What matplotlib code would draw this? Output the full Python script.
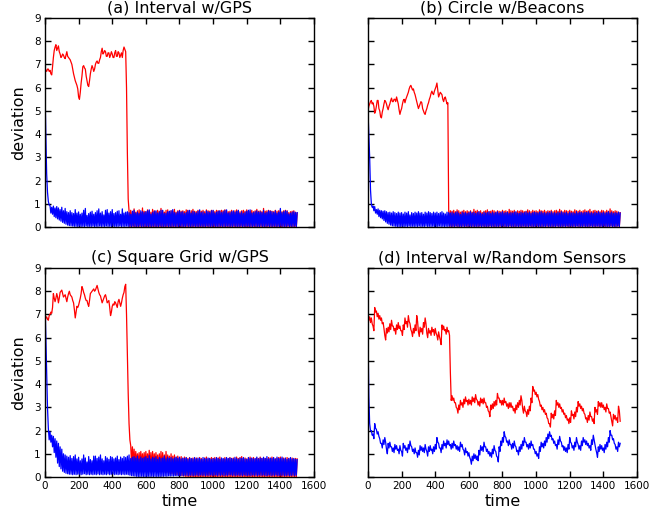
import numpy as np
import matplotlib
matplotlib.use('Agg')
import matplotlib.pyplot as plt

# 经典风格：刻度朝内，四边都有刻度
plt.rcParams['font.family'] = ['DejaVu Sans']
plt.rcParams['xtick.direction'] = 'in'
plt.rcParams['ytick.direction'] = 'in'
plt.rcParams['xtick.top'] = True
plt.rcParams['ytick.right'] = True
plt.rcParams['xtick.major.size'] = 4
plt.rcParams['ytick.major.size'] = 4

# one sample every 5 steps
time = np.arange(0, 1501, 5)

titles = ['(a) Interval w/GPS', '(b) Circle w/Beacons',
          '(c) Square Grid w/GPS', '(d) Interval w/Random Sensors']
x_ticks = [0, 200, 400, 600, 800, 1000, 1200, 1400, 1600]
y_ticks = [0, 1, 2, 3, 4, 5, 6, 7, 8, 9]

# (a) Interval w/GPS  (rows of 100 time units)
red_a = [
    6.85, 6.75, 6.7, 6.8, 6.8, 6.7, 6.75, 6.6, 6.55, 6.9, 7.3, 7.6, 7.75, 7.85, 7.6, 7.7, 7.8, 7.55, 7.45, 7.3,
    7.35, 7.45, 7.4, 7.3, 7.25, 7.4, 7.55, 7.35, 7.3, 7.25, 7.2, 7.1, 7.0, 6.8, 6.6, 6.45, 6.3, 6.2, 6.1, 5.95,
    5.6, 5.5, 5.8, 6.2, 6.5, 6.9, 6.95, 6.85, 6.8, 6.5, 6.3, 6.1, 6.05, 6.3, 6.6, 6.8, 6.95, 6.85, 6.7, 6.8,
    7.0, 7.1, 7.15, 7.05, 7.05, 7.2, 7.3, 7.55, 7.7, 7.45, 7.5, 7.6, 7.55, 7.35, 7.35, 7.5, 7.5, 7.3, 7.4, 7.55,
    7.45, 7.3, 7.3, 7.5, 7.6, 7.35, 7.35, 7.55, 7.5, 7.3, 7.4, 7.5, 7.3, 7.6, 7.75, 7.65, 7.55, 6.0, 3.2, 1.2,
    0.7, 0.02, 0.72, 0.0, 0.66, 0.03, 0.78, 0.01, 0.64, 0.02, 0.7, 0.0, 0.74, 0.02, 0.62, 0.01, 0.82, 0.02, 0.68, 0.0,
    0.66, 0.02, 0.74, 0.01, 0.7, 0.0, 0.64, 0.02, 0.76, 0.01, 0.7, 0.02, 0.66, 0.0, 0.72, 0.01, 0.68, 0.02, 0.8, 0.0,
    0.7, 0.01, 0.64, 0.02, 0.72, 0.0, 0.74, 0.01, 0.66, 0.02, 0.7, 0.0, 0.68, 0.02, 0.76, 0.01, 0.64, 0.0, 0.7, 0.02,
    0.72, 0.0, 0.68, 0.01, 0.7, 0.02, 0.66, 0.0, 0.74, 0.01, 0.72, 0.02, 0.64, 0.0, 0.7, 0.01, 0.76, 0.02, 0.68, 0.0,
    0.66, 0.02, 0.72, 0.01, 0.7, 0.0, 0.68, 0.02, 0.72, 0.01, 0.66, 0.0, 0.74, 0.02, 0.7, 0.01, 0.68, 0.0, 0.72, 0.02,
    0.7, 0.01, 0.66, 0.0, 0.72, 0.02, 0.7, 0.01, 0.68, 0.0, 0.72, 0.02, 0.7, 0.01, 0.74, 0.0, 0.7, 0.02, 0.66, 0.01,
    0.68, 0.0, 0.72, 0.02, 0.66, 0.01, 0.7, 0.0, 0.74, 0.02, 0.7, 0.01, 0.66, 0.0, 0.7, 0.02, 0.72, 0.01, 0.68, 0.0,
    0.74, 0.02, 0.7, 0.01, 0.68, 0.0, 0.72, 0.02, 0.66, 0.01, 0.7, 0.0, 0.76, 0.02, 0.68, 0.01, 0.7, 0.0, 0.66, 0.02,
    0.8, 0.01, 0.68, 0.0, 0.7, 0.02, 0.72, 0.01, 0.7, 0.0, 0.68, 0.02, 0.66, 0.01, 0.72, 0.0, 0.68, 0.02, 0.7, 0.01,
    0.74, 0.0, 0.66, 0.02, 0.7, 0.01, 0.72, 0.0, 0.7, 0.02, 0.62, 0.01, 0.66, 0.0, 0.68, 0.02, 0.7, 0.01, 0.64, 0.0,
    0.6]
blue_a = [
    6.0, 4.0, 2.3, 1.5, 1.1, 0.95, 0.92, 0.6, 0.85, 0.55, 0.9, 0.45, 0.82, 0.4, 0.88, 0.35, 0.82, 0.3, 0.75, 0.25,
    0.85, 0.2, 0.7, 0.16, 0.8, 0.12, 0.66, 0.08, 0.62, 0.06, 0.7, 0.05, 0.62, 0.04, 0.58, 0.03, 0.75, 0.03, 0.6, 0.02,
    0.65, 0.04, 0.55, 0.02, 0.6, 0.03, 0.72, 0.02, 0.8, 0.04, 0.5, 0.02, 0.58, 0.03, 0.64, 0.02, 0.68, 0.04, 0.55, 0.02,
    0.62, 0.03, 0.7, 0.02, 0.78, 0.04, 0.6, 0.02, 0.66, 0.03, 0.52, 0.02, 0.72, 0.04, 0.75, 0.02, 0.6, 0.03, 0.66, 0.02,
    0.75, 0.04, 0.58, 0.02, 0.62, 0.03, 0.68, 0.02, 0.7, 0.04, 0.55, 0.02, 0.78, 0.03, 0.6, 0.02, 0.64, 0.04, 0.66, 0.02,
    0.62, 0.03, 0.55, 0.02, 0.68, 0.04, 0.72, 0.02, 0.6, 0.03, 0.64, 0.02, 0.58, 0.04, 0.7, 0.02, 0.66, 0.03, 0.62, 0.02,
    0.66, 0.04, 0.7, 0.02, 0.74, 0.03, 0.56, 0.02, 0.62, 0.04, 0.68, 0.02, 0.7, 0.03, 0.6, 0.02, 0.65, 0.04, 0.72, 0.02,
    0.72, 0.03, 0.58, 0.02, 0.6, 0.04, 0.66, 0.02, 0.68, 0.03, 0.7, 0.02, 0.75, 0.04, 0.62, 0.02, 0.6, 0.03, 0.66, 0.02,
    0.7, 0.04, 0.64, 0.02, 0.66, 0.03, 0.58, 0.02, 0.62, 0.04, 0.7, 0.02, 0.72, 0.03, 0.6, 0.02, 0.68, 0.04, 0.64, 0.02,
    0.6, 0.03, 0.68, 0.02, 0.74, 0.04, 0.62, 0.02, 0.66, 0.03, 0.58, 0.02, 0.7, 0.04, 0.66, 0.02, 0.62, 0.03, 0.7, 0.02,
    0.72, 0.04, 0.6, 0.02, 0.64, 0.03, 0.68, 0.02, 0.7, 0.04, 0.62, 0.02, 0.66, 0.03, 0.72, 0.02, 0.74, 0.04, 0.6, 0.02,
    0.62, 0.03, 0.66, 0.02, 0.7, 0.04, 0.64, 0.02, 0.68, 0.03, 0.72, 0.02, 0.6, 0.04, 0.66, 0.02, 0.58, 0.03, 0.64, 0.02,
    0.68, 0.04, 0.72, 0.02, 0.74, 0.03, 0.6, 0.02, 0.62, 0.04, 0.66, 0.02, 0.7, 0.03, 0.64, 0.02, 0.66, 0.04, 0.62, 0.02,
    0.72, 0.03, 0.6, 0.02, 0.64, 0.04, 0.7, 0.02, 0.68, 0.03, 0.66, 0.02, 0.62, 0.04, 0.7, 0.02, 0.6, 0.03, 0.64, 0.02,
    0.8, 0.04, 0.62, 0.02, 0.66, 0.03, 0.7, 0.02, 0.68, 0.04, 0.56, 0.02, 0.6, 0.03, 0.64, 0.02, 0.66, 0.04, 0.62, 0.02,
    0.62]

# (b) Circle w/Beacons
red_b = [
    5.0, 5.2, 5.3, 5.4, 5.45, 5.3, 5.35, 5.2, 4.9, 5.0, 5.2, 5.45, 5.45, 5.1, 5.0, 4.75, 4.7, 4.95, 5.1, 5.3,
    5.45, 5.4, 5.3, 5.15, 5.05, 5.2, 5.3, 5.45, 5.55, 5.4, 5.4, 5.5, 5.5, 5.4, 5.6, 5.45, 5.3, 5.05, 4.85, 5.0,
    5.1, 5.3, 5.45, 5.5, 5.35, 5.5, 5.6, 5.7, 5.8, 5.95, 6.05, 6.1, 6.0, 5.9, 5.95, 5.8, 5.7, 5.55, 5.4, 5.25,
    5.1, 5.2, 5.3, 5.4, 5.35, 5.1, 5.0, 4.9, 4.85, 5.0, 5.1, 5.25, 5.35, 5.5, 5.6, 5.75, 5.85, 5.75, 5.7, 5.85,
    5.95, 6.05, 6.2, 5.9, 5.6, 5.7, 5.8, 5.75, 5.7, 5.5, 5.4, 5.55, 5.6, 5.45, 5.3, 5.35, 0.72, 0.03, 0.7, 0.02,
    0.68, 0.03, 0.72, 0.02, 0.66, 0.04, 0.74, 0.02, 0.7, 0.03, 0.64, 0.02, 0.68, 0.04, 0.72, 0.02, 0.66, 0.03, 0.7, 0.02,
    0.66, 0.04, 0.7, 0.02, 0.64, 0.03, 0.76, 0.02, 0.68, 0.04, 0.72, 0.02, 0.66, 0.03, 0.7, 0.02, 0.62, 0.04, 0.68, 0.02,
    0.7, 0.03, 0.74, 0.02, 0.66, 0.04, 0.68, 0.02, 0.72, 0.03, 0.7, 0.02, 0.65, 0.04, 0.7, 0.02, 0.68, 0.03, 0.66, 0.02,
    0.72, 0.04, 0.68, 0.02, 0.7, 0.03, 0.66, 0.02, 0.76, 0.04, 0.7, 0.02, 0.68, 0.03, 0.72, 0.02, 0.64, 0.04, 0.7, 0.02,
    0.68, 0.03, 0.72, 0.02, 0.7, 0.04, 0.66, 0.02, 0.68, 0.03, 0.74, 0.02, 0.7, 0.04, 0.66, 0.02, 0.72, 0.03, 0.68, 0.02,
    0.7, 0.04, 0.66, 0.02, 0.74, 0.03, 0.7, 0.02, 0.68, 0.04, 0.72, 0.02, 0.66, 0.03, 0.7, 0.02, 0.68, 0.04, 0.72, 0.02,
    0.66, 0.03, 0.7, 0.02, 0.72, 0.04, 0.68, 0.02, 0.76, 0.03, 0.7, 0.02, 0.66, 0.04, 0.72, 0.02, 0.7, 0.03, 0.68, 0.02,
    0.72, 0.04, 0.68, 0.02, 0.66, 0.03, 0.74, 0.02, 0.7, 0.04, 0.68, 0.02, 0.72, 0.03, 0.66, 0.02, 0.7, 0.04, 0.74, 0.02,
    0.68, 0.03, 0.7, 0.02, 0.76, 0.04, 0.66, 0.02, 0.7, 0.03, 0.72, 0.02, 0.68, 0.04, 0.7, 0.02, 0.66, 0.03, 0.72, 0.02,
    0.7, 0.04, 0.66, 0.02, 0.72, 0.03, 0.68, 0.02, 0.78, 0.04, 0.7, 0.02, 0.66, 0.03, 0.7, 0.02, 0.68, 0.04, 0.64, 0.02,
    0.62]
blue_b = [
    5.0, 4.0, 3.0, 1.6, 1.0, 0.85, 0.9, 0.7, 0.88, 0.6, 0.75, 0.55, 0.78, 0.45, 0.72, 0.4, 0.7, 0.35, 0.68, 0.28,
    0.7, 0.22, 0.66, 0.16, 0.62, 0.12, 0.64, 0.08, 0.6, 0.05, 0.66, 0.04, 0.62, 0.03, 0.58, 0.02, 0.64, 0.02, 0.6, 0.02,
    0.62, 0.03, 0.56, 0.02, 0.64, 0.03, 0.6, 0.02, 0.66, 0.04, 0.52, 0.02, 0.62, 0.03, 0.58, 0.02, 0.64, 0.03, 0.6, 0.02,
    0.66, 0.04, 0.6, 0.02, 0.62, 0.03, 0.55, 0.02, 0.64, 0.04, 0.6, 0.02, 0.66, 0.03, 0.62, 0.02, 0.58, 0.03, 0.64, 0.02,
    0.6, 0.03, 0.64, 0.02, 0.58, 0.04, 0.62, 0.02, 0.66, 0.03, 0.6, 0.02, 0.56, 0.03, 0.64, 0.02, 0.62, 0.04, 0.6, 0.02,
    0.64, 0.03, 0.58, 0.02, 0.62, 0.04, 0.66, 0.02, 0.6, 0.03, 0.54, 0.02, 0.64, 0.03, 0.6, 0.02, 0.62, 0.04, 0.58, 0.02,
    0.62, 0.04, 0.66, 0.02, 0.6, 0.03, 0.64, 0.02, 0.58, 0.03, 0.62, 0.02, 0.66, 0.04, 0.6, 0.02, 0.56, 0.03, 0.64, 0.02,
    0.6, 0.03, 0.62, 0.02, 0.66, 0.04, 0.58, 0.02, 0.64, 0.03, 0.6, 0.02, 0.62, 0.03, 0.66, 0.02, 0.6, 0.04, 0.62, 0.02,
    0.66, 0.04, 0.6, 0.02, 0.62, 0.03, 0.64, 0.02, 0.58, 0.04, 0.62, 0.02, 0.6, 0.03, 0.64, 0.02, 0.66, 0.03, 0.6, 0.02,
    0.58, 0.03, 0.64, 0.02, 0.6, 0.04, 0.62, 0.02, 0.66, 0.03, 0.6, 0.02, 0.64, 0.04, 0.58, 0.02, 0.62, 0.03, 0.64, 0.02,
    0.62, 0.04, 0.6, 0.02, 0.64, 0.03, 0.66, 0.02, 0.6, 0.03, 0.62, 0.02, 0.58, 0.04, 0.64, 0.02, 0.6, 0.03, 0.66, 0.02,
    0.6, 0.03, 0.62, 0.02, 0.58, 0.04, 0.64, 0.02, 0.6, 0.03, 0.66, 0.02, 0.62, 0.03, 0.6, 0.02, 0.64, 0.04, 0.58, 0.02,
    0.64, 0.04, 0.6, 0.02, 0.62, 0.03, 0.58, 0.02, 0.66, 0.04, 0.6, 0.02, 0.64, 0.03, 0.62, 0.02, 0.6, 0.03, 0.64, 0.02,
    0.62, 0.03, 0.66, 0.02, 0.6, 0.04, 0.62, 0.02, 0.58, 0.03, 0.64, 0.02, 0.6, 0.04, 0.66, 0.02, 0.62, 0.03, 0.6, 0.02,
    0.64, 0.04, 0.6, 0.02, 0.62, 0.03, 0.66, 0.02, 0.6, 0.04, 0.64, 0.02, 0.58, 0.03, 0.62, 0.02, 0.6, 0.04, 0.64, 0.02,
    0.6]

# (c) Square Grid w/GPS
red_c = [
    6.7, 6.85, 6.9, 6.8, 6.75, 6.95, 7.0, 7.1, 7.05, 7.3, 7.9, 7.7, 7.55, 7.7, 7.9, 7.75, 7.5, 7.7, 7.95, 8.0,
    8.05, 7.9, 7.75, 7.8, 7.85, 7.7, 7.55, 7.75, 7.9, 8.0, 7.85, 7.8, 7.75, 7.6, 7.5, 7.2, 6.85, 7.1, 7.35, 7.3,
    7.4, 7.55, 7.7, 7.9, 8.2, 8.1, 7.95, 7.85, 7.7, 7.6, 7.6, 7.45, 7.35, 7.6, 7.9, 7.95, 8.0, 8.05, 8.1, 8.0,
    8.05, 8.15, 8.25, 8.1, 7.95, 7.85, 7.8, 7.65, 7.5, 7.6, 7.7, 7.8, 7.85, 7.7, 7.5, 7.55, 7.6, 7.3, 6.95, 7.1,
    7.35, 7.45, 7.4, 7.55, 7.5, 7.4, 7.3, 7.55, 7.65, 7.5, 7.35, 7.5, 7.7, 7.85, 7.95, 8.2, 8.3, 7.0, 5.2, 3.6,
    2.3, 1.6, 1.35, 0.55, 1.3, 0.5, 1.2, 0.45, 1.1, 0.5, 1.0, 0.45, 1.05, 0.4, 1.1, 0.45, 1.0, 0.4, 1.05, 0.35,
    1.1, 0.35, 1.0, 0.4, 1.15, 0.35, 1.05, 0.3, 1.1, 0.35, 1.0, 0.3, 1.05, 0.3, 0.95, 0.25, 1.0, 0.3, 1.1, 0.25,
    1.05, 0.25, 0.95, 0.2, 1.1, 0.2, 0.95, 0.2, 0.9, 0.15, 1.0, 0.15, 0.9, 0.12, 0.95, 0.1, 0.85, 0.1, 0.9, 0.08,
    0.85, 0.06, 0.88, 0.05, 0.8, 0.04, 0.86, 0.03, 0.82, 0.02, 0.8, 0.02, 0.84, 0.01, 0.78, 0.01, 0.82, 0.0, 0.8, 0.0,
    0.82, 0.0, 0.78, 0.01, 0.84, 0.0, 0.8, 0.01, 0.76, 0.0, 0.82, 0.01, 0.86, 0.0, 0.78, 0.01, 0.8, 0.0, 0.84, 0.01,
    0.8, 0.0, 0.84, 0.01, 0.78, 0.0, 0.82, 0.01, 0.86, 0.0, 0.8, 0.01, 0.76, 0.0, 0.84, 0.01, 0.8, 0.0, 0.78, 0.01,
    0.84, 0.0, 0.8, 0.01, 0.82, 0.0, 0.78, 0.01, 0.86, 0.0, 0.8, 0.01, 0.84, 0.0, 0.88, 0.01, 0.8, 0.0, 0.82, 0.01,
    0.78, 0.0, 0.82, 0.01, 0.86, 0.0, 0.8, 0.01, 0.84, 0.0, 0.78, 0.01, 0.82, 0.0, 0.8, 0.01, 0.86, 0.0, 0.8, 0.01,
    0.82, 0.0, 0.8, 0.01, 0.78, 0.0, 0.84, 0.01, 0.8, 0.0, 0.86, 0.01, 0.82, 0.0, 0.78, 0.01, 0.8, 0.0, 0.84, 0.01,
    0.86, 0.0, 0.8, 0.01, 0.82, 0.0, 0.78, 0.01, 0.84, 0.0, 0.8, 0.01, 0.76, 0.0, 0.82, 0.01, 0.78, 0.0, 0.8, 0.01,
    0.78]
blue_c = [
    7.6, 6.0, 4.6, 3.0, 2.1, 1.6, 1.95, 1.5, 1.8, 1.3, 1.75, 1.05, 1.65, 0.85, 1.55, 0.6, 1.45, 0.45, 1.3, 0.35,
    1.2, 0.25, 1.0, 0.2, 0.95, 0.16, 0.9, 0.14, 0.85, 0.12, 0.92, 0.12, 0.8, 0.1, 0.88, 0.12, 0.95, 0.1, 0.78, 0.12,
    0.85, 0.12, 0.7, 0.1, 0.78, 0.12, 0.95, 0.14, 0.82, 0.1, 0.65, 0.12, 0.88, 0.1, 0.75, 0.12, 0.7, 0.1, 0.9, 0.12,
    0.9, 0.1, 0.8, 0.13, 0.86, 0.1, 0.95, 0.12, 0.78, 0.1, 0.7, 0.12, 0.88, 0.1, 0.82, 0.13, 0.76, 0.1, 0.88, 0.12,
    0.85, 0.13, 0.78, 0.1, 0.82, 0.12, 0.9, 0.1, 0.75, 0.12, 0.86, 0.1, 0.8, 0.12, 0.88, 0.1, 0.84, 0.12, 0.9, 0.1,
    0.95, 0.08, 0.8, 0.06, 0.85, 0.05, 0.88, 0.04, 0.82, 0.03, 0.9, 0.02, 0.78, 0.02, 0.86, 0.03, 0.8, 0.02, 0.84, 0.02,
    0.88, 0.02, 0.8, 0.03, 0.92, 0.02, 0.78, 0.03, 0.85, 0.02, 0.82, 0.03, 0.88, 0.02, 0.76, 0.03, 0.84, 0.02, 0.8, 0.03,
    0.82, 0.03, 0.9, 0.04, 0.78, 0.03, 0.86, 0.05, 0.8, 0.04, 0.84, 0.05, 0.78, 0.04, 0.82, 0.06, 0.86, 0.05, 0.8, 0.06,
    0.85, 0.06, 0.78, 0.07, 0.82, 0.06, 0.8, 0.08, 0.84, 0.07, 0.76, 0.06, 0.82, 0.08, 0.8, 0.07, 0.78, 0.06, 0.84, 0.08,
    0.78, 0.08, 0.82, 0.06, 0.8, 0.09, 0.76, 0.07, 0.84, 0.08, 0.8, 0.06, 0.78, 0.08, 0.82, 0.07, 0.8, 0.09, 0.76, 0.07,
    0.8, 0.07, 0.78, 0.09, 0.84, 0.06, 0.8, 0.08, 0.76, 0.07, 0.82, 0.09, 0.8, 0.06, 0.78, 0.08, 0.84, 0.07, 0.8, 0.09,
    0.82, 0.09, 0.8, 0.07, 0.78, 0.08, 0.85, 0.06, 0.8, 0.09, 0.76, 0.07, 0.82, 0.08, 0.8, 0.06, 0.84, 0.09, 0.78, 0.07,
    0.76, 0.07, 0.84, 0.08, 0.8, 0.06, 0.82, 0.09, 0.78, 0.07, 0.8, 0.08, 0.86, 0.06, 0.78, 0.09, 0.82, 0.07, 0.8, 0.08,
    0.85, 0.08, 0.8, 0.06, 0.88, 0.07, 0.78, 0.09, 0.82, 0.06, 0.8, 0.08, 0.84, 0.07, 0.78, 0.09, 0.86, 0.06, 0.8, 0.08,
    0.8, 0.07, 0.86, 0.08, 0.78, 0.06, 0.82, 0.07, 0.76, 0.08, 0.8, 0.06, 0.84, 0.07, 0.78, 0.08, 0.8, 0.06, 0.76, 0.08,
    0.75]

# (d) Interval w/Random Sensors
red_d = [
    6.95, 6.75, 6.9, 6.65, 6.85, 6.6, 6.5, 6.3, 7.3, 7.1, 7.15, 6.9, 7.05, 6.8, 6.95, 6.75, 6.85, 6.6, 6.65, 6.4,
    6.1, 5.9, 6.4, 6.2, 6.45, 6.25, 6.6, 6.35, 6.75, 6.5, 6.5, 6.3, 6.4, 6.15, 6.55, 6.35, 6.65, 6.4, 6.5, 6.3,
    6.3, 6.1, 6.55, 6.35, 6.85, 6.6, 6.7, 6.45, 6.95, 6.7, 6.6, 6.35, 6.25, 6.05, 6.4, 6.2, 6.55, 6.3, 6.95, 6.7,
    6.25, 6.05, 6.45, 6.25, 6.4, 6.15, 6.65, 6.45, 6.85, 6.6, 6.2, 6.0, 6.4, 6.2, 6.3, 6.1, 6.45, 6.25, 6.35, 6.1,
    6.4, 6.2, 6.1, 5.9, 6.25, 6.05, 5.9, 5.7, 6.55, 6.35, 6.5, 6.3, 6.35, 6.15, 6.45, 6.25, 6.3, 6.1, 4.5, 3.3,
    3.5, 3.3, 3.4, 3.2, 3.2, 3.0, 2.95, 2.75, 3.1, 2.9, 3.3, 3.1, 3.2, 3.0, 3.35, 3.15, 3.45, 3.25, 3.3, 3.1,
    3.35, 3.15, 3.3, 3.1, 3.45, 3.25, 3.4, 3.2, 3.55, 3.35, 3.3, 3.1, 3.25, 3.05, 3.4, 3.2, 3.35, 3.15, 3.4, 3.2,
    3.2, 3.0, 3.05, 2.85, 2.8, 2.6, 3.1, 2.9, 3.15, 2.95, 3.25, 3.05, 3.3, 3.1, 3.6, 3.4, 3.4, 3.2, 3.3, 3.1,
    3.3, 3.1, 3.4, 3.2, 3.25, 3.05, 3.15, 2.95, 3.2, 3.0, 3.2, 3.0, 3.05, 2.85, 2.95, 2.75, 3.1, 2.9, 3.2, 3.0,
    3.3, 3.1, 3.5, 3.3, 2.95, 2.75, 3.05, 2.85, 2.8, 2.6, 2.9, 2.7, 3.05, 2.85, 3.4, 3.2, 3.9, 3.7, 3.75, 3.55,
    3.65, 3.45, 3.55, 3.35, 3.25, 3.05, 3.1, 2.9, 3.0, 2.8, 2.9, 2.7, 2.75, 2.55, 2.5, 2.3, 2.3, 2.15, 2.75, 2.55,
    2.7, 2.5, 2.85, 2.65, 3.3, 3.1, 3.2, 3.0, 3.15, 2.95, 3.0, 2.8, 2.9, 2.7, 2.75, 2.55, 2.65, 2.45, 2.5, 2.3,
    2.55, 2.35, 2.85, 2.65, 2.7, 2.5, 2.8, 2.6, 3.0, 2.8, 3.25, 3.05, 3.15, 2.95, 3.05, 2.85, 2.95, 2.75, 2.7, 2.5,
    2.55, 2.35, 2.65, 2.45, 2.8, 2.6, 2.6, 2.4, 2.5, 2.3, 3.0, 2.8, 2.9, 2.7, 3.25, 3.05, 3.2, 3.0, 3.2, 3.0,
    3.1, 2.9, 3.0, 2.8, 3.15, 2.95, 2.95, 2.75, 2.8, 2.6, 2.4, 2.2, 2.7, 2.5, 2.65, 2.45, 2.55, 2.35, 3.05, 2.85,
    2.4]
blue_d = [
    6.2, 3.5, 2.3, 2.0, 2.0, 1.8, 1.85, 1.65, 2.3, 2.1, 2.05, 1.85, 1.95, 1.75, 1.65, 1.45, 1.45, 1.25, 1.6, 1.4,
    1.7, 1.5, 1.2, 1.0, 1.45, 1.25, 1.5, 1.3, 1.3, 1.1, 1.25, 1.05, 1.4, 1.2, 1.35, 1.15, 1.2, 1.0, 1.35, 1.15,
    1.1, 0.9, 1.45, 1.25, 1.35, 1.15, 1.25, 1.05, 1.4, 1.2, 1.55, 1.35, 1.3, 1.1, 1.2, 1.0, 1.25, 1.05, 1.05, 0.85,
    1.15, 0.95, 1.35, 1.15, 1.3, 1.1, 1.25, 1.05, 1.4, 1.2, 1.1, 0.9, 1.3, 1.1, 1.35, 1.15, 1.2, 1.0, 1.3, 1.1,
    1.4, 1.2, 1.7, 1.5, 1.45, 1.25, 1.25, 1.05, 1.4, 1.2, 1.55, 1.35, 1.45, 1.25, 1.6, 1.4, 1.55, 1.35, 1.4, 1.2,
    1.45, 1.25, 1.55, 1.35, 1.4, 1.2, 1.35, 1.15, 1.3, 1.1, 1.5, 1.3, 1.4, 1.2, 1.15, 0.95, 1.25, 1.05, 1.1, 0.9,
    1.05, 0.85, 0.75, 0.55, 0.9, 0.7, 1.0, 0.8, 0.95, 0.75, 0.9, 0.7, 1.15, 0.95, 1.35, 1.15, 1.3, 1.1, 1.5, 1.3,
    1.3, 1.1, 1.2, 1.0, 1.1, 0.9, 1.05, 0.85, 1.2, 1.0, 1.35, 1.15, 1.1, 0.9, 0.85, 0.65, 1.3, 1.1, 1.55, 1.35,
    1.7, 1.5, 1.95, 1.75, 1.7, 1.5, 1.55, 1.35, 1.6, 1.4, 1.4, 1.2, 1.45, 1.25, 1.55, 1.35, 1.3, 1.1, 1.15, 0.95,
    1.3, 1.1, 1.4, 1.2, 1.55, 1.35, 1.7, 1.5, 1.5, 1.3, 1.4, 1.2, 1.45, 1.25, 1.55, 1.35, 1.4, 1.2, 1.2, 1.0,
    1.1, 0.9, 1.0, 0.8, 1.3, 1.1, 1.5, 1.3, 1.45, 1.25, 1.55, 1.35, 1.7, 1.5, 1.85, 1.65, 1.95, 1.75, 1.8, 1.6,
    1.65, 1.45, 1.55, 1.35, 1.4, 1.2, 1.6, 1.4, 1.75, 1.55, 1.5, 1.3, 1.35, 1.15, 1.3, 1.1, 1.25, 1.05, 1.4, 1.2,
    1.7, 1.5, 1.45, 1.25, 1.35, 1.15, 1.5, 1.3, 1.7, 1.5, 1.4, 1.2, 1.35, 1.15, 1.55, 1.35, 1.7, 1.5, 1.6, 1.4,
    1.55, 1.35, 1.45, 1.25, 1.35, 1.15, 1.6, 1.4, 1.8, 1.6, 1.4, 1.2, 1.05, 0.85, 1.3, 1.1, 1.4, 1.2, 1.35, 1.15,
    1.25, 1.05, 1.4, 1.2, 1.5, 1.3, 1.7, 1.5, 2.0, 1.8, 1.8, 1.6, 1.65, 1.45, 1.4, 1.2, 1.3, 1.1, 1.5, 1.3,
    1.45]

reds = [red_a, red_b, red_c, red_d]
blues = [blue_a, blue_b, blue_c, blue_d]

fig = plt.figure(figsize=(6.49, 5.19), dpi=100)
boxes = [[0.0693, 0.5626, 0.4145, 0.4027],
         [0.567, 0.5626, 0.4145, 0.4027],
         [0.0693, 0.0809, 0.4145, 0.4027],
         [0.567, 0.0809, 0.4145, 0.4027]]

for i in range(4):
    ax = fig.add_axes(boxes[i])
    ax.plot(time, reds[i], color='#ff0000', lw=0.9)
    ax.plot(time, blues[i], color='#0000ff', lw=0.9)
    ax.set_xlim(0, 1600)
    ax.set_ylim(0, 9)
    ax.set_xticks(x_ticks)
    ax.set_yticks(y_ticks)
    ax.tick_params(labelsize=7.5, width=1, pad=3)
    for s in ax.spines.values():
        s.set_linewidth(1.0)
    ax.set_title(titles[i], fontsize=11.5, pad=4)
    if i < 2:
        ax.set_xticklabels([])
    else:
        ax.set_xlabel('time', fontsize=11.5, labelpad=2)
    if i % 2 == 1:
        ax.set_yticklabels([])
    else:
        ax.set_ylabel('deviation', fontsize=11.5, labelpad=6)

fig.savefig('out.png', dpi=100)
